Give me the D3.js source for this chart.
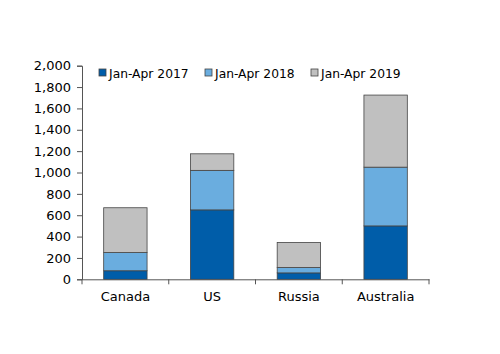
<!DOCTYPE html>
<html>
<head>
<meta charset="utf-8">
<script src="https://cdn.jsdelivr.net/npm/d3@7"></script>
<style>
body{margin:0;background:#fff;}
text{font-family:"DejaVu Sans",Verdana,sans-serif;}
</style>
</head>
<body>
<svg id="chart" width="500" height="354"></svg>
<script>
const categories=["Canada","US","Russia","Australia"];
const seriesNames=["Jan-Apr 2017","Jan-Apr 2018","Jan-Apr 2019"];
const v2017=[80,650,60,500];
const v2018=[170,370,50,550];
const v2019=[420,155,235,675];
const yTicks=[0,200,400,600,800,1000,1200,1400,1600,1800,2000];
const colors=["#005da9","#6aaddf","#c0c0c0"];

const svg=d3.select("#chart");
const m={top:66,right:70,bottom:75,left:82};

const rows=categories.map((c,i)=>({cat:c,[seriesNames[0]]:v2017[i],[seriesNames[1]]:v2018[i],[seriesNames[2]]:v2019[i]}));
const stack=d3.stack().keys(seriesNames)(rows);

const x=d3.scaleBand().domain(categories).range([m.left,429]).paddingInner(0.5).paddingOuter(0.25);
const y=d3.scaleLinear().domain([0,2000]).range([279.3,65.7]);

svg.append("g").selectAll("g")
  .data(stack).enter().append("g")
  .attr("fill",(d,i)=>colors[i])
  .selectAll("rect")
  .data(d=>d).enter().append("rect")
  .attr("x",d=>x(d.data.cat))
  .attr("width",x.bandwidth())
  .attr("y",d=>y(d[1]))
  .attr("height",d=>y(d[0])-y(d[1]))
  .attr("stroke","#444")
  .attr("stroke-width",0.8);

const yAxis=svg.append("g")
  .attr("transform",`translate(${m.left},0)`)
  .call(d3.axisLeft(y).tickValues(yTicks).tickFormat(d3.format(",")).tickSizeOuter(0).tickSize(5).tickPadding(6));
yAxis.selectAll("text").attr("font-size","13px").attr("fill","#000").style("font-family","'DejaVu Sans'");

const xAxis=svg.append("g")
  .attr("transform",`translate(0,${y(0)})`)
  .call(d3.axisBottom(x).tickSize(0).tickPadding(12));
xAxis.selectAll("text").attr("font-size","13px").attr("fill","#000").style("font-family","'DejaVu Sans'");
// boundary ticks between categories
const step=x.step();
const edges=d3.range(categories.length+1).map(i=>m.left+i*step);
xAxis.selectAll(".edge").data(edges).enter().append("line")
  .attr("x1",d=>d).attr("x2",d=>d).attr("y1",0).attr("y2",5)
  .attr("stroke","#555");
svg.selectAll(".domain,.tick line").attr("stroke","#555");

const legX=[99,205,311];
const leg=svg.append("g");
seriesNames.forEach((s,i)=>{
  leg.append("rect").attr("x",legX[i]).attr("y",69).attr("width",7).attr("height",7)
    .attr("fill",colors[i]).attr("stroke","#444").attr("stroke-width",0.8);
  leg.append("text").attr("x",legX[i]+10).attr("y",77.5).attr("font-size","12.3px").text(s);
});
</script>
</body>
</html>
